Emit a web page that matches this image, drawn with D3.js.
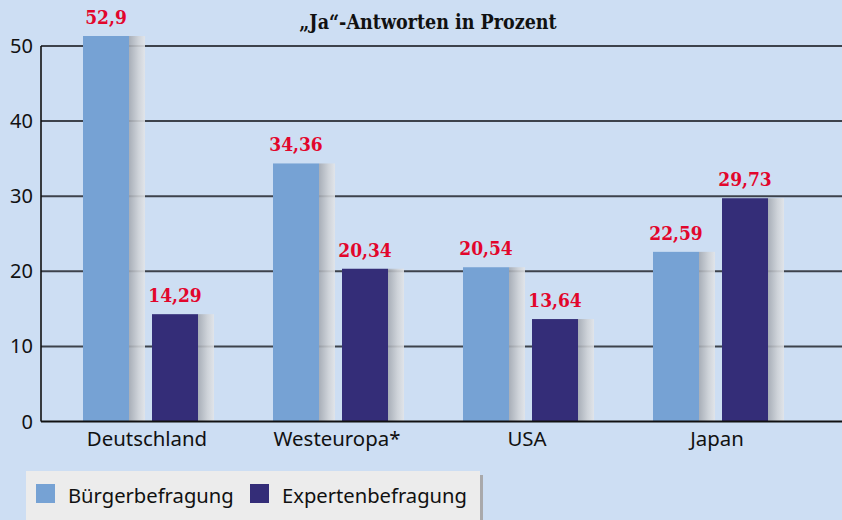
<!DOCTYPE html>
<html lang="de">
<head>
    <meta charset="UTF-8">
    <title>Ja-Antworten in Prozent</title>
    <script src="https://d3js.org/d3.v7.min.js"></script>
    <style>
        body { margin: 0; background: #cddef3; }
        svg { display: block; }
        .tick-label { font-family: "Noto Sans", sans-serif; font-size: 20px; fill: #111; }
        .cat-label { font-family: "Noto Sans", sans-serif; font-size: 20.4px; fill: #111; }
        .value-label { font-family: "DejaVu Serif Condensed", "DejaVu Serif", serif; font-weight: bold; font-size: 19px; fill: #e2062c; }
        .subtitle { font-family: "DejaVu Serif Condensed", "DejaVu Serif", serif; font-weight: bold; font-size: 19.5px; fill: #111; }
        .legend-text { font-family: "Noto Sans", sans-serif; font-size: 20.2px; fill: #111; }
    </style>
</head>
<body>
<svg height="520" width="842"></svg>

<script>
    const countries = ["Deutschland", "Westeuropa*", "USA", "Japan"];
    const series = ["Bürgerbefragung", "Expertenbefragung"];
    const buerger = [52.9, 34.36, 20.54, 22.59];
    const experten = [14.29, 20.34, 13.64, 29.73];
    const yTicks = [0, 10, 20, 30, 40, 50];

    const colors = { "Bürgerbefragung": "#76a2d4", "Expertenbefragung": "#342d78" };

    const svg = d3.select("svg");

    const x0 = d3.scaleBand().domain(countries).range([53, 813]);
    const x1 = d3.scaleBand().domain(series).range([0, 138]);
    const y = d3.scaleLinear().domain([0, 50]).range([421.5, 46]);

    const frontW = 46, shadowW = 16;
    const groupOffset = (x0.bandwidth() - 130) / 2;

    const defs = svg.append("defs");
    const grad = defs.append("linearGradient").attr("id", "shade");
    grad.append("stop").attr("offset", "0%").attr("stop-color", "#a3a8b0");
    grad.append("stop").attr("offset", "60%").attr("stop-color", "#cfd2d6");
    grad.append("stop").attr("offset", "100%").attr("stop-color", "#e3e5e8");
    defs.append("clipPath").attr("id", "plot")
        .append("rect").attr("x", 0).attr("y", 36).attr("width", 842).attr("height", 400);

    svg.append("text").attr("class", "subtitle")
        .attr("x", 428).attr("y", 29).attr("text-anchor", "middle")
        .text("„Ja“-Antworten in Prozent");

    // gridlines
    svg.append("g").selectAll("line")
        .data(yTicks.filter(d => d > 0))
        .join("line")
        .attr("x1", 41).attr("x2", 842)
        .attr("y1", d => y(d)).attr("y2", d => y(d))
        .attr("stroke", "#3d424b").attr("stroke-width", 2);

    const rows = countries.map((c, i) => ({
        country: c,
        values: [
            { key: series[0], value: buerger[i] },
            { key: series[1], value: experten[i] }
        ]
    }));

    const groups = svg.append("g").selectAll("g")
        .data(rows)
        .join("g")
        .attr("transform", d => `translate(${x0(d.country) + groupOffset},0)`);

    const bars = groups.selectAll("g")
        .data(d => d.values)
        .join("g")
        .attr("clip-path", "url(#plot)");

    bars.append("rect")
        .attr("x", d => x1(d.key) + frontW)
        .attr("y", d => y(d.value))
        .attr("width", shadowW)
        .attr("height", d => y(0) - y(d.value))
        .attr("fill", "url(#shade)")
        .attr("opacity", 0.88);

    bars.append("rect")
        .attr("x", d => x1(d.key))
        .attr("y", d => y(d.value))
        .attr("width", frontW)
        .attr("height", d => y(0) - y(d.value))
        .attr("fill", d => colors[d.key]);

    groups.selectAll("text")
        .data(d => d.values)
        .join("text")
        .attr("class", "value-label")
        .attr("x", d => x1(d.key) + frontW / 2)
        .attr("y", d => Math.max(y(d.value), 36) - 12)
        .attr("text-anchor", "middle")
        .text(d => String(d.value).replace(".", ","));

    // axes
    svg.append("line")
        .attr("x1", 41).attr("x2", 41).attr("y1", y(50)).attr("y2", y(0))
        .attr("stroke", "#111").attr("stroke-width", 1.6);
    svg.append("line")
        .attr("x1", 41).attr("x2", 842).attr("y1", y(0)).attr("y2", y(0))
        .attr("stroke", "#111").attr("stroke-width", 2);

    svg.append("g").selectAll("text")
        .data(yTicks)
        .join("text")
        .attr("class", "tick-label")
        .attr("x", 33).attr("y", d => y(d) + 7)
        .attr("text-anchor", "end")
        .text(d => d);

    svg.append("g").selectAll("text")
        .data(countries)
        .join("text")
        .attr("class", "cat-label")
        .attr("x", d => x0(d) + x0.bandwidth() / 2 - 1)
        .attr("y", 446)
        .attr("text-anchor", "middle")
        .text(d => d);

    // legend
    const legend = svg.append("g");
    legend.append("rect").attr("x", 480).attr("y", 475).attr("width", 3).attr("height", 50).attr("fill", "#a9a9ab");
    legend.append("rect").attr("x", 26).attr("y", 471).attr("width", 454).attr("height", 55).attr("fill", "#ececec");
    const legendX = [36, 250];
    series.forEach((s, i) => {
        legend.append("rect").attr("x", legendX[i]).attr("y", 484).attr("width", 19).attr("height", 19).attr("fill", colors[s]);
        legend.append("text").attr("class", "legend-text")
            .attr("x", legendX[i] + 32).attr("y", 503).text(s);
    });
</script>
</body>
</html>
